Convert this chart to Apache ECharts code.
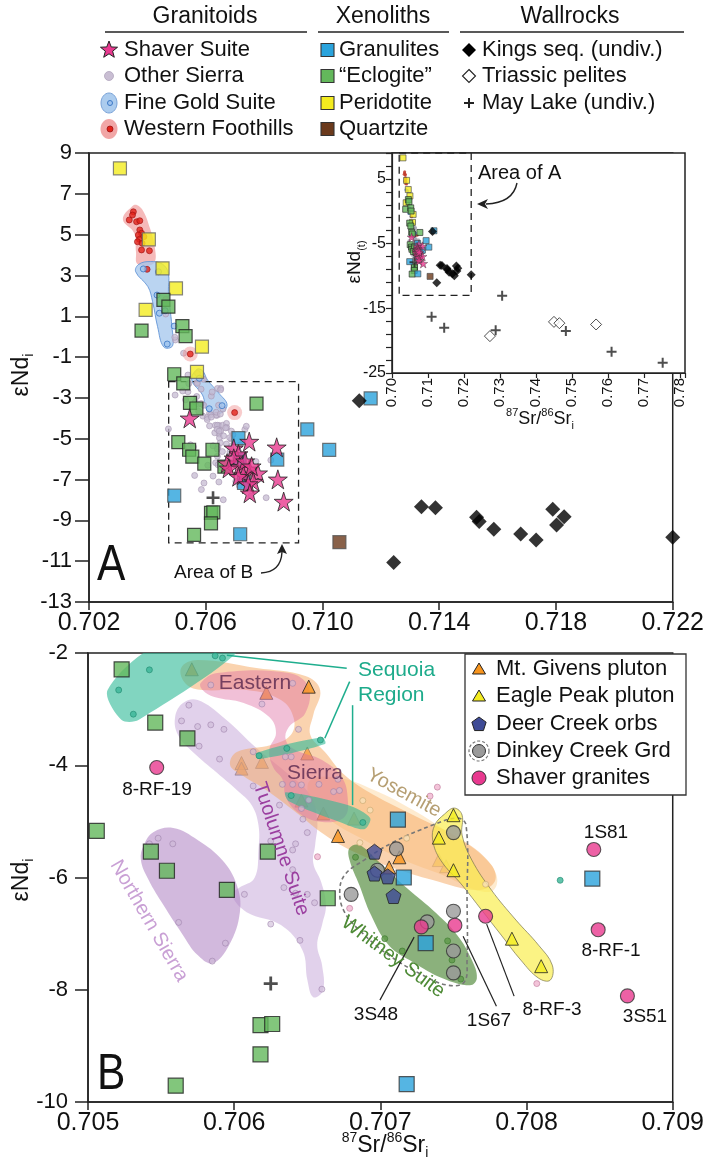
<!DOCTYPE html>
<html><head><meta charset="utf-8">
<script src="https://cdn.jsdelivr.net/npm/echarts@6/dist/echarts.min.js"></script>
<style>html,body{margin:0;padding:0;background:#fff}#c{width:707px;height:1166px}</style>
</head><body><div id="c"></div>
<script>
// ---------------- DATA ----------------
const axisA = {xmin:0.702, xmax:0.722, xstep:0.004, ymin:-13, ymax:9, ystep:2};
const axisInset = {xmin:0.70, xmax:0.7814, xstep:0.01, ymin:-25, ymax:9, ystep:2};
const axisB = {xmin:0.705, xmax:0.709, xstep:0.001, ymin:-10, ymax:-2, ystep:2};

// Granitoids (panel A)
const shaverSuite = [[0.70545,-4.00],[0.70749,-5.14],[0.70843,-5.42],[0.70696,-5.47],[0.70712,-5.75],[0.70673,-6.20],[0.70696,-5.96],[0.70716,-6.37],[0.70679,-6.45],[0.70749,-6.50],[0.70779,-6.69],[0.70729,-6.78],[0.70712,-6.86],[0.70763,-7.10],[0.70746,-7.22],[0.70847,-6.99],[0.70751,-7.67],[0.70867,-8.08],[0.70735,-6.10],[0.70757,-6.35]];
const otherSierraExtra = [[0.70463,1.83],[0.70463,1.11],[0.70496,-0.16],[0.70524,-0.81],[0.70494,-0.03],[0.70539,-1.88],[0.70572,-1.80],[0.70472,-4.52],[0.70495,-2.86],[0.70539,-2.70],[0.70570,-2.25],[0.70651,-2.53]];
const fineGoldDots = [[0.70386,3.32],[0.70438,3.18],[0.70433,2.04],[0.70441,1.15],[0.70461,1.27],[0.70492,0.52],[0.70468,-0.36],[0.70578,-2.04],[0.70612,-3.53],[0.70656,-3.38]];
const westernFoothillsDots = [[0.70352,6.12],[0.70349,5.96],[0.70338,5.72],[0.70363,5.63],[0.70374,5.68],[0.70374,5.23],[0.70380,5.07],[0.70369,4.98],[0.70388,4.90],[0.70373,4.77],[0.70366,4.65],[0.70382,4.58],[0.70380,4.25],[0.70407,4.21],[0.70399,3.30]];
const westernFoothillsOutliers = [[0.70547,-0.85],[0.70699,-3.72]];
const fineGoldRegionUpper = [[0.70371,3.55],[0.70360,3.18],[0.70402,2.45],[0.70418,1.71],[0.70435,0.49],[0.70456,-0.50],[0.70486,-0.45],[0.70484,0.49],[0.70477,1.47],[0.70472,2.20],[0.70472,3.10],[0.70452,3.55],[0.70410,3.68]];
const fineGoldRegionLower = [[0.70570,-1.60],[0.70552,-2.12],[0.70589,-2.86],[0.70606,-3.63],[0.70645,-3.78],[0.70673,-3.35],[0.70645,-2.77],[0.70606,-2.12],[0.70589,-1.67]];
const westernFoothillsRegion = [[0.70349,6.40],[0.70316,5.75],[0.70355,5.07],[0.70361,4.16],[0.70367,3.55],[0.70422,3.60],[0.70425,4.44],[0.70409,5.31],[0.70386,6.15],[0.70364,6.45]];

// Xenoliths
const granulites = [[0.70712,-4.97],[0.70716,-6.00],[0.70845,-6.02],[0.70731,-7.17],[0.70718,-9.68],[0.70492,-7.79],[0.70948,-4.54],[0.71023,-5.55],[0.71165,-3.02]];
const eclogite = [[0.70455,1.80],[0.70472,1.47],[0.70380,0.30],[0.70520,0.52],[0.70531,0.03],[0.70492,-1.84],[0.70774,-3.28],[0.70523,-2.29],[0.70546,-3.24],[0.70568,-3.52],[0.70506,-5.17],[0.70543,-5.54],[0.70554,-5.88],[0.70623,-5.54],[0.70595,-6.22],[0.70664,-6.37],[0.70618,-8.63],[0.70626,-8.61],[0.70618,-9.15],[0.70560,-9.71]];
const peridotite = [[0.70306,8.25],[0.70405,4.77],[0.70452,3.35],[0.70498,2.37],[0.70394,1.31],[0.70587,-0.49],[0.70570,-1.72]];
const quartzite = [[0.71058,-10.07]];

// Wallrocks
const kingsSeq = [[0.71126,-3.14],[0.71244,-11.07],[0.71339,-8.33],[0.71387,-8.38],[0.71528,-8.85],[0.71537,-9.06],[0.71587,-9.44],[0.71679,-9.67],[0.71732,-9.96],[0.71789,-8.46],[0.71802,-9.23],[0.71828,-8.82],[0.72200,-9.83]];
const triassicPelites = [[0.7272,-19.3],[0.7450,-17.1],[0.7465,-17.3],[0.7567,-17.5]];
const mayLake = [[0.70625,-7.89],[0.7110,-16.3],[0.7145,-18.0],[0.7288,-18.4],[0.7306,-13.05],[0.7483,-18.5],[0.7610,-21.7],[0.7752,-23.4]];

// Panel B plutons
const mtGivens = [[0.70651,-2.60],[0.70671,-5.26],[0.70706,-5.82],[0.70713,-5.64]];
const mtGivensUnder = [[0.70622,-2.71],[0.70650,-3.79],[0.70605,-3.96],[0.70605,-4.06],[0.70619,-3.94],[0.70661,-4.86],[0.70571,-2.29],[0.70646,-4.63],[0.70682,-4.95]];
const eaglePeak = [[0.70750,-4.89],[0.70740,-5.29],[0.70750,-5.87],[0.70790,-7.09],[0.70810,-7.58]];
const eaglePeakUnder = [[0.70740,-5.69],[0.70745,-5.80]];
const deerCreek = [[0.70696,-5.54],[0.70696,-5.93],[0.70705,-5.98],[0.70709,-6.33]];
const dinkeyCreek = [[0.70711,-5.49],[0.70750,-5.20],[0.70698,-5.87],[0.70680,-6.30],[0.70750,-6.60],[0.70732,-6.79],[0.70750,-7.31],[0.70750,-7.70]];
const shaverGranites = [[0.70547,-4.04],[0.70846,-5.50],[0.70849,-6.93],[0.70869,-8.11],[0.70772,-6.69],[0.70751,-6.85],[0.70728,-6.88]];
const shaverLabels = ['8-RF-19','1S81','8-RF-1','3S51','8-RF-3','1S67','3S48'];

// Panel B small symbols (other Sierra samples)
const sierraDots = [[0.70569,-2.93],[0.70564,-3.21],[0.70575,-3.31],[0.70584,-3.28],[0.70593,-3.36],[0.70576,-3.66],[0.70590,-3.89],[0.70584,-2.57],[0.70619,-2.91],[0.70640,-2.54],[0.70644,-3.36],[0.70613,-3.76],[0.70639,-3.85],[0.70635,-3.85],[0.70646,-4.35],[0.70633,-4.34],[0.70640,-4.34],[0.70646,-4.77],[0.70658,-4.34],[0.70671,-4.25],[0.70672,-4.45],[0.70668,-4.47],[0.70651,-4.62],[0.70647,-4.96],[0.70631,-4.71],[0.70650,-5.20],[0.70548,-5.30],[0.70542,-5.40],[0.70558,-5.40],[0.70613,-4.37],[0.70625,-5.35],[0.70642,-5.40],[0.70640,-5.51],[0.70640,-5.86],[0.70634,-6.18],[0.70642,-6.28],[0.70650,-6.30],[0.70607,-6.30],[0.70625,-6.83],[0.70562,-6.80],[0.70655,-6.45],[0.70645,-7.12],[0.70594,-7.17],[0.70585,-7.49],[0.70660,-7.99]];
const sequoiaDots = [[0.70542,-2.30],[0.70521,-2.66],[0.70531,-3.09],[0.70587,-2.05],[0.70592,-2.09],[0.70617,-3.83],[0.70636,-3.70],[0.70659,-3.55],[0.70639,-4.54],[0.70688,-5.02],[0.70823,-6.05]];
const whitneyDots = [[0.70683,-5.64],[0.70703,-7.09],[0.70715,-7.31],[0.70746,-7.13],[0.70749,-7.47],[0.70755,-7.81]];
const pinkDots = [[0.70734,-4.55],[0.70739,-4.39],[0.70657,-5.63],[0.70679,-6.55],[0.70807,-7.89]];
const yosemiteDots = [[0.70772,-6.12],[0.70718,-5.30],[0.70686,-5.38],[0.70693,-4.80],[0.70688,-4.63]];

// Panel B field outlines (data coordinates)
const sequoiaUpper = [[0.705134,-2.66],[0.705482,-1.86],[0.706052,-1.86],[0.705348,-3.19],[0.705228,-3.19]];
const sequoiaMid = [[0.706152,-3.78],[0.706601,-3.50],[0.706621,-3.62],[0.706166,-3.89]];
const sequoiaLower = [[0.706353,-4.48],[0.706776,-4.71],[0.706930,-4.94],[0.706889,-5.14],[0.706722,-5.01],[0.706374,-4.64]];
const easternSierra = [[0.705771,-2.535],[0.705884,-2.357],[0.706374,-2.357],[0.706508,-2.606],[0.706487,-3.07],[0.706374,-3.319],[0.706353,-3.551],[0.70642,-3.729],[0.706601,-3.907],[0.706735,-4.21],[0.706776,-4.567],[0.706755,-4.923],[0.706601,-5.012],[0.706441,-4.852],[0.706353,-4.567],[0.706333,-4.264],[0.706266,-4.032],[0.70624,-3.729],[0.706286,-3.426],[0.70624,-3.141],[0.706065,-2.891],[0.705864,-2.784],[0.705784,-2.66]];
const mtGivensField = [[0.705637,-2.267],[0.70575,-2.125],[0.706152,-2.267],[0.706487,-2.41],[0.706588,-2.66],[0.706541,-3.105],[0.706521,-3.462],[0.706621,-3.765],[0.706755,-4.175],[0.706956,-4.531],[0.707224,-4.888],[0.707559,-5.333],[0.70776,-5.779],[0.707781,-6.082],[0.70766,-6.225],[0.707358,-6.046],[0.70709,-5.832],[0.706822,-5.547],[0.706621,-5.244],[0.70642,-4.834],[0.706219,-4.442],[0.706052,-4.175],[0.705972,-3.996],[0.706018,-3.765],[0.706253,-3.64],[0.706387,-3.462],[0.706407,-3.159],[0.70632,-2.838],[0.706085,-2.66],[0.705784,-2.66],[0.70567,-2.553]];
const tuolumneField = [[0.705596,-3.141],[0.70565,-2.891],[0.70575,-2.838],[0.705931,-3.159],[0.706152,-3.693],[0.706353,-4.121],[0.706521,-4.531],[0.706568,-4.977],[0.706554,-5.422],[0.706541,-5.743],[0.706595,-6.082],[0.706628,-6.492],[0.706601,-6.848],[0.706568,-7.205],[0.706601,-7.561],[0.706608,-8.007],[0.706541,-8.132],[0.706501,-7.829],[0.706467,-7.294],[0.70632,-6.848],[0.706085,-6.617],[0.705985,-6.314],[0.706032,-6.189],[0.706139,-6.011],[0.706166,-5.512],[0.706166,-5.066],[0.706119,-4.709],[0.706018,-4.442],[0.705884,-4.139],[0.705717,-3.765],[0.705616,-3.462]];
const northernSierraField = [[0.705382,-5.422],[0.705449,-5.191],[0.705583,-5.119],[0.70575,-5.333],[0.705918,-5.69],[0.706018,-6.135],[0.706039,-6.617],[0.705965,-7.205],[0.705851,-7.526],[0.70575,-7.383],[0.70565,-7.027],[0.705516,-6.492],[0.705415,-6.046],[0.705362,-5.69]];
const whitneyField = [[0.706789,-5.476],[0.706856,-5.422],[0.706977,-5.69],[0.707157,-6.135],[0.707358,-6.581],[0.707526,-7.027],[0.707626,-7.472],[0.70766,-7.793],[0.707613,-7.918],[0.707425,-7.793],[0.707224,-7.508],[0.707057,-7.205],[0.706936,-6.67],[0.706856,-6.135],[0.706789,-5.69]];
const eaglePeakField = [[0.707439,-4.87],[0.707506,-4.763],[0.707559,-4.888],[0.707559,-5.244],[0.707626,-5.69],[0.70776,-6.225],[0.707928,-6.759],[0.708082,-7.205],[0.708176,-7.561],[0.708162,-7.829],[0.708082,-7.793],[0.707961,-7.472],[0.707827,-7.027],[0.707693,-6.581],[0.707559,-6.135],[0.707412,-5.69],[0.707358,-5.333],[0.707372,-5.066]];
const yosemiteField = [[0.706521,-4.264],[0.706722,-4.228],[0.706956,-4.442],[0.707224,-4.799],[0.707492,-5.244],[0.707693,-5.601],[0.707794,-5.957],[0.707774,-6.225],[0.70766,-6.225],[0.707425,-5.957],[0.707157,-5.69],[0.706889,-5.333],[0.706655,-4.977],[0.706521,-4.62]];
const dinkeyOutline = [[0.706722,-6.278],[0.706755,-5.957],[0.706889,-5.69],[0.70709,-5.369],[0.707358,-5.066],[0.707526,-4.941],[0.707586,-5.066],[0.707593,-6.403],[0.707593,-7.472],[0.707573,-7.865],[0.707459,-7.918],[0.707291,-7.74],[0.707057,-7.383],[0.706856,-6.938],[0.706755,-6.617]];
const sequoiaLeaders = [[[0.70595,-2.04],[0.70677,-2.27]],[[0.70679,-2.51],[0.70662,-3.52]],[[0.70681,-2.93],[0.70681,-4.71]]];
const sampleLeaders = [[[0.706997,-8.185],[0.707231,-7.062]],[[0.707794,-8.292],[0.707566,-7.045]],[[0.707915,-8.114],[0.707727,-6.831]]];
const areaOfB = [[0.70473,-2.2],[0.70918,-10.1]];
const areaOfA = [[0.702,9],[0.722,-13]];

// ---------------- RENDERING ----------------
const FONT = '"Liberation Sans", Arial, Helvetica, sans-serif';
const STAR = 'path://M50,2L61.2,36.5L97.6,36.5L68.2,57.8L79.4,92.4L50,71L20.6,92.4L31.8,57.8L2.4,36.5L38.8,36.5Z';
const PENT = 'path://M50,2L97.6,36.5L79.4,92.4L20.6,92.4L2.4,36.5Z';
const PLUS = 'path://M4,0H6V4H10V6H6V10H4V6H0V4H4Z';
const C = {star:'#e8398f', blue:'#2aa3dc', green:'#63b85b', yellow:'#f4ec1f', brown:'#6b3a1c', red:'#e2231a',
  orange:'#f7941d', navy:'#3f4b96', gray:'#9a9a9a', pink:'#e8398f'};

function sc(data, gi, symbol, size, style, z, extra){
  return Object.assign({type:'scatter', xAxisIndex:gi, yAxisIndex:gi, data:data, symbol:symbol, symbolSize:size,
    itemStyle:style, z:z, silent:true, animation:false, clip:true}, extra||{});
}
function region(data, gi, style, z, smooth){
  return {type:'custom', xAxisIndex:gi, yAxisIndex:gi, z:z, clip:true, silent:true, animation:false, data:[data[0]],
    renderItem:function(p, api){
      return {type:'polygon', shape:{points:data.map(function(d){return api.coord(d);}), smooth:(smooth==null?0.4:smooth)}, style:style};
    }};
}
function lines(list, gi, style, z){
  return {type:'custom', xAxisIndex:gi, yAxisIndex:gi, z:z, clip:true, silent:true, animation:false, data:[list[0][0]],
    renderItem:function(p, api){
      return {type:'group', children:list.map(function(l){
        return {type:'polyline', shape:{points:l.map(function(d){return api.coord(d);})}, style:style};})};
    }};
}
function box(c, gi, z){
  return {type:'custom', xAxisIndex:gi, yAxisIndex:gi, z:z, clip:false, silent:true, animation:false, data:[c[0]],
    renderItem:function(p, api){
      const a = api.coord(c[0]), b = api.coord(c[1]);
      return {type:'rect', shape:{x:a[0], y:a[1], width:b[0]-a[0], height:b[1]-a[1]},
        style:{fill:'none', stroke:'#222', lineWidth:1.3, lineDash:[7,5]}};
    }};
}

const sqStyle = function(c){return {color:c, borderColor:'#222', borderWidth:1.2};};
const otherSierraA = [].concat(otherSierraExtra, sierraDots, sequoiaDots, whitneyDots, pinkDots, yosemiteDots, mtGivens, mtGivensUnder);

const series = [];
// ---- Panel A ----
series.push(region(westernFoothillsRegion, 0, {fill:'rgba(239,140,140,0.6)'}, 1));
series.push(region(fineGoldRegionUpper, 0, {fill:'rgba(163,198,236,0.75)', stroke:'rgba(100,150,215,0.9)', lineWidth:1}, 1));
series.push(region(fineGoldRegionLower, 0, {fill:'rgba(163,198,236,0.75)', stroke:'rgba(100,150,215,0.9)', lineWidth:1}, 1));
series.push(box(areaOfB, 0, 2));
series.push(sc(otherSierraA, 0, 'circle', 6, {color:'rgba(196,184,208,0.9)', borderColor:'#a898b4', borderWidth:0.8}, 3));
series.push(sc(westernFoothillsOutliers, 0, 'circle', 15, {color:'rgba(240,140,140,0.55)'}, 3));
series.push(sc(westernFoothillsDots.concat(westernFoothillsOutliers), 0, 'circle', 6, {color:C.red, borderColor:'#9e1010', borderWidth:0.8}, 4));
series.push(sc(fineGoldDots, 0, 'circle', 6, {color:'#9fc3ee', borderColor:'#3b78c6', borderWidth:1}, 4));
series.push(sc(peridotite, 0, 'rect', 13, {color:C.yellow, borderColor:'#666', borderWidth:1.2}, 5));
series.push(sc(eclogite, 0, 'rect', 13, sqStyle(C.green), 5));
series.push(sc(granulites, 0, 'rect', 13, {color:C.blue, borderColor:'#555', borderWidth:1.2}, 5));
series.push(sc(quartzite, 0, 'rect', 13, {color:C.brown, borderColor:'#555', borderWidth:1.2}, 5));
series.push(sc(kingsSeq, 0, 'diamond', 15, {color:'#000'}, 5));
series.push(sc(mayLake, 0, PLUS, 13, {color:'#222'}, 5));
series.push(sc(shaverSuite, 0, STAR, 19, {color:C.star, borderColor:'#222', borderWidth:1}, 6));
// ---- Inset ----
series.push(box(areaOfA, 1, 2));
series.push(sc(otherSierraA, 1, 'circle', 3, {color:'#a9a9b4'}, 3));
series.push(sc(westernFoothillsDots.concat(westernFoothillsOutliers), 1, 'circle', 3, {color:'#c0392b'}, 4));
series.push(sc(fineGoldDots, 1, 'circle', 3, {color:'#5b8fd6'}, 4));
series.push(sc(peridotite, 1, 'rect', 6, {color:C.yellow, borderColor:'#444', borderWidth:0.8}, 5));
series.push(sc(eclogite, 1, 'rect', 6, {color:C.green, borderColor:'#222', borderWidth:0.8}, 5));
series.push(sc(granulites, 1, 'rect', 6, {color:C.blue, borderColor:'#444', borderWidth:0.8}, 5));
series.push(sc(quartzite, 1, 'rect', 6, {color:C.brown, borderColor:'#444', borderWidth:0.8}, 5));
series.push(sc(kingsSeq, 1, 'diamond', 9, {color:'#000'}, 5));
series.push(sc(triassicPelites, 1, 'diamond', 11, {color:'#fff', borderColor:'#222', borderWidth:1}, 5));
series.push(sc(mayLake, 1, PLUS, 10, {color:'#222'}, 5));
series.push(sc(shaverSuite, 1, STAR, 9, {color:C.star, borderColor:'#333', borderWidth:0.5}, 6));
// ---- Panel B ----
series.push(sc(mtGivensUnder, 2, 'triangle', 13, {color:C.orange, borderColor:'#555', borderWidth:1}, 1));
series.push(sc(eaglePeakUnder, 2, 'triangle', 13, {color:C.yellow, borderColor:'#777', borderWidth:1}, 1));
series.push(region(tuolumneField, 2, {fill:'rgba(200,172,218,0.55)'}, 2));
series.push(region(northernSierraField, 2, {fill:'rgba(178,135,196,0.58)'}, 2));
series.push(region(yosemiteField, 2, {fill:'rgba(253,218,168,0.55)'}, 2));
series.push(region(mtGivensField, 2, {fill:'rgba(245,168,95,0.5)'}, 2));
series.push(region(easternSierra, 2, {fill:'rgba(222,105,160,0.42)'}, 2));
series.push(region(sequoiaUpper, 2, {fill:'rgba(45,185,150,0.6)'}, 2, 0.3));
series.push(region(sequoiaMid, 2, {fill:'rgba(45,185,150,0.6)'}, 2, 0.3));
series.push(region(sequoiaLower, 2, {fill:'rgba(45,185,150,0.6)'}, 2, 0.3));
series.push(region(whitneyField, 2, {fill:'rgba(84,140,62,0.68)'}, 2));
series.push(region(eaglePeakField, 2, {fill:'rgba(250,238,80,0.7)', stroke:'rgba(120,115,80,0.7)', lineWidth:1}, 2));
series.push(region(dinkeyOutline, 2, {fill:'none', stroke:'#777', lineWidth:1.6, lineDash:[4,3]}, 3));
series.push(lines(sequoiaLeaders, 2, {stroke:'#1fae8e', lineWidth:1.5, fill:'none'}, 3));
series.push(lines(sampleLeaders, 2, {stroke:'#222', lineWidth:1.2, fill:'none'}, 3));
series.push(sc(sierraDots, 2, 'circle', 6, {color:'rgba(205,185,215,0.75)', borderColor:'rgba(150,120,165,0.8)', borderWidth:0.8}, 4));
series.push(sc(sequoiaDots, 2, 'circle', 6, {color:'#3bb597', borderColor:'#1f8a70', borderWidth:0.8}, 4));
series.push(sc(whitneyDots, 2, 'circle', 6, {color:'#5e9a49', borderColor:'#3e7a2f', borderWidth:0.8}, 4));
series.push(sc(pinkDots, 2, 'circle', 6, {color:'#f0b5d0', borderColor:'#c07a9c', borderWidth:0.8}, 4));
series.push(sc(yosemiteDots, 2, 'circle', 6, {color:'#f7e0b8', borderColor:'#c8a870', borderWidth:0.8}, 4));
series.push(sc(eclogite, 2, 'rect', 15, sqStyle(C.green), 5));
series.push(sc(granulites, 2, 'rect', 15, {color:C.blue, borderColor:'#333', borderWidth:1.2}, 5));
series.push(sc(mayLake, 2, PLUS, 14, {color:'#222'}, 5));
series.push(sc(mtGivens, 2, 'triangle', 13, {color:C.orange, borderColor:'#222', borderWidth:1}, 6));
series.push(sc(eaglePeak, 2, 'triangle', 13, {color:C.yellow, borderColor:'#222', borderWidth:1}, 6));
series.push(sc(dinkeyCreek, 2, 'circle', 14, {color:C.gray, borderColor:'#333', borderWidth:1.1}, 6));
series.push(sc(deerCreek, 2, PENT, 15, {color:C.navy, borderColor:'#222', borderWidth:1}, 7));
series.push(sc(shaverGranites, 2, 'circle', 14, {color:C.pink, borderColor:'#333', borderWidth:1.1}, 7));

// ---------------- AXES ----------------
function xAx(gi, a, fs, fmt, extra){
  return Object.assign({gridIndex:gi, type:'value', min:a.xmin, max:a.xmax, interval:a.xstep,
    axisLine:{onZero:false, lineStyle:{color:'#222', width:1.5}}, axisTick:{length:8, lineStyle:{color:'#222', width:1.5}},
    splitLine:{show:false}, axisLabel:{fontSize:fs, color:'#111', fontFamily:FONT, margin:9, formatter:fmt}}, extra||{});
}
function yAx(gi, a, fs, fmt, tick, margin){
  return {gridIndex:gi, type:'value', min:a.ymin, max:a.ymax, interval:a.ystep,
    axisLine:{onZero:false, lineStyle:{color:'#222', width:1.5}}, axisTick:{length:tick, lineStyle:{color:'#222', width:1.5}},
    splitLine:{show:false}, axisLabel:{fontSize:fs, color:'#111', fontFamily:FONT, margin:margin, formatter:fmt}};
}
const xAxes = [
  xAx(0, axisA, 25, function(v){return v.toFixed(3);}),
  xAx(1, axisInset, 15, function(v){return Math.abs(Math.round(v*100)-v*100)<1e-6 ? v.toFixed(2) : '';},
      {axisTick:{length:5, lineStyle:{color:'#222', width:1.2}}}),
  xAx(2, axisB, 25, function(v){return v.toFixed(3);})
];
xAxes[1].axisLabel.rotate = 90; xAxes[1].axisLabel.margin = 5; xAxes[1].axisLine.lineStyle.width = 1.2;
const yAxes = [
  yAx(0, axisA, 22, function(v){return String(Math.round(v));}, 14, 17),
  yAx(1, axisInset, 16, function(v){const r=Math.round(v); return ((r+25)%10===0)?String(r):'';}, 6, 6),
  yAx(2, axisB, 22, function(v){return String(Math.round(v));}, 13, 20)
];
yAxes[1].axisLine.lineStyle.width = 1.2; yAxes[1].axisTick.lineStyle.width = 1.2;

// ---------------- GRAPHIC (legends, labels, annotations) ----------------
const G = [];
function T(x, y, text, size, o){
  o = o || {};
  G.push({type:'text', x:x, y:y, rotation:o.rot||0, scaleX:o.sx||1, z:o.z||50, silent:true,
    style:{text:text, fontSize:size, fontFamily:FONT, fill:o.fill||'#111', opacity:(o.op==null?1:o.op),
      align:o.align||'left', textAlign:o.align||'left', verticalAlign:'middle', textVerticalAlign:'middle', rich:o.rich}});
}
function starPts(cx, cy, R, r){const a=[];for(let i=0;i<10;i++){const rr=i%2?r:R;const t=-Math.PI/2+i*Math.PI/5;a.push([cx+rr*Math.cos(t),cy+rr*Math.sin(t)]);}return a;}
function ngon(cx, cy, R, n){const a=[];for(let i=0;i<n;i++){const t=-Math.PI/2+i*2*Math.PI/n;a.push([cx+R*Math.cos(t),cy+R*Math.sin(t)]);}return a;}

// top legend
T(205, 17, 'Granitoids', 23, {align:'center'});
T(383, 17, 'Xenoliths', 23, {align:'center'});
T(570, 17, 'Wallrocks', 23, {align:'center'});
[[105,307],[318,449],[460,684]].forEach(function(s){
  G.push({type:'line', shape:{x1:s[0], y1:32, x2:s[1], y2:32}, style:{stroke:'#222', lineWidth:1.3}, z:50, silent:true});
});
const rows = [50, 76, 103, 129];
G.push({type:'polygon', shape:{points:starPts(109, rows[0], 9, 3.8)}, style:{fill:C.star, stroke:'#222', lineWidth:1}, z:50});
G.push({type:'circle', shape:{cx:109, cy:rows[1], r:4.5}, style:{fill:'#c9bed3', stroke:'#b0a4bc', lineWidth:0.8}, z:50});
G.push({type:'ellipse', shape:{cx:109, cy:rows[2], rx:8, ry:10}, style:{fill:'rgba(163,198,236,0.9)', stroke:'#7aa3d8', lineWidth:1}, z:50});
G.push({type:'circle', shape:{cx:110, cy:rows[2], r:2.5}, style:{fill:'#9fc3ee', stroke:'#3b78c6', lineWidth:1}, z:51});
G.push({type:'ellipse', shape:{cx:109, cy:rows[3], rx:8.5, ry:10}, style:{fill:'rgba(239,150,150,0.85)'}, z:50});
G.push({type:'circle', shape:{cx:110, cy:rows[3], r:3}, style:{fill:C.red, stroke:'#9e1010', lineWidth:0.8}, z:51});
['Shaver Suite','Other Sierra','Fine Gold Suite','Western Foothills'].forEach(function(t,i){T(124, rows[i], t, 22);});
[C.blue, C.green, C.yellow, C.brown].forEach(function(c,i){
  G.push({type:'rect', shape:{x:321, y:rows[i]-6.5, width:13, height:13}, style:{fill:c, stroke:'#333', lineWidth:1.1}, z:50});
});
['Granulites','\u201CEclogite\u201D','Peridotite','Quartzite'].forEach(function(t,i){T(339, rows[i], t, 22);});
G.push({type:'polygon', shape:{points:[[469,rows[0]-7],[476,rows[0]],[469,rows[0]+7],[462,rows[0]]]}, style:{fill:'#000'}, z:50});
G.push({type:'polygon', shape:{points:[[469,rows[1]-6.5],[475.5,rows[1]],[469,rows[1]+6.5],[462.5,rows[1]]]}, style:{fill:'#fff', stroke:'#222', lineWidth:1.1}, z:50});
G.push({type:'rect', shape:{x:464, y:rows[2]-1, width:10, height:2}, style:{fill:'#222'}, z:50});
G.push({type:'rect', shape:{x:468, y:rows[2]-5, width:2, height:10}, style:{fill:'#222'}, z:50});
['Kings seq. (undiv.)','Triassic pelites','May Lake (undiv.)'].forEach(function(t,i){T(482, rows[i], t, 22);});

// panel letters and area annotations
T(97, 566, 'A', 50, {sx:0.85});
T(97, 1075, 'B', 50, {sx:0.85});
T(174, 573, 'Area of B', 19);
G.push({type:'bezierCurve', shape:{x1:261, y1:573, cpx1:281, cpy1:572, x2:282, y2:552}, style:{stroke:'#222', lineWidth:1.4, fill:'none'}, z:50});
G.push({type:'polygon', shape:{points:[[282,544],[287,554],[282,552],[277,554]]}, style:{fill:'#222'}, z:50});
T(478, 173, 'Area of A', 20);
G.push({type:'bezierCurve', shape:{x1:517, y1:183, cpx1:513, cpy1:203, x2:486, y2:204}, style:{stroke:'#222', lineWidth:1.4, fill:'none'}, z:50});
G.push({type:'polygon', shape:{points:[[477,204],[488,199],[485,204],[488,209]]}, style:{fill:'#222'}, z:50});

// axis titles
const richSub = function(fs){return {n:{fontSize:fs, fontFamily:FONT, fill:'#111', lineHeight:fs+6},
  s:{fontSize:Math.round(fs*0.6), fontFamily:FONT, fill:'#111', lineHeight:Math.round(fs*0.6), verticalAlign:'bottom'},
  p:{fontSize:Math.round(fs*0.6), fontFamily:FONT, fill:'#111', lineHeight:Math.round(fs*0.6), verticalAlign:'top'}};};
T(22, 375, '{n|\u03B5Nd}{s|i}', 23, {align:'center', rot:Math.PI/2, rich:richSub(23)});
T(22, 880, '{n|\u03B5Nd}{s|i}', 23, {align:'center', rot:Math.PI/2, rich:richSub(23)});
T(355, 262, '{n|\u03B5Nd}{s|(t)}', 19, {align:'center', rot:Math.PI/2, rich:richSub(19)});
T(540, 419, '{p|87}{n|Sr/}{p|86}{n|Sr}{s|i}', 18, {align:'center', rich:richSub(18)});
T(385, 1146, '{p|87}{n|Sr/}{p|86}{n|Sr}{s|i}', 23, {align:'center', rich:richSub(23)});

// panel B field names
const deg = Math.PI/180;
T(255, 683, 'Eastern', 21, {align:'center', fill:'#5f2d52', op:0.85});
T(315, 773, 'Sierra', 21, {align:'center', fill:'#5f2d52', op:0.85});
T(281, 849, 'Tuolumne Suite', 20, {align:'center', fill:'#9b3fa0', rot:-71.4*deg});
T(149, 921, 'Northern Sierra', 20, {align:'center', fill:'#c9a0d5', rot:-60*deg});
T(393, 957, 'Whitney Suite', 20, {align:'center', fill:'#4d8a35', rot:-36.5*deg});
T(404, 793, 'Yosemite', 20, {align:'center', fill:'#b69f73', rot:-28.7*deg});
T(358, 670, 'Sequoia', 21, {fill:'#1dab8b'});
T(358, 695, 'Region', 21, {fill:'#1dab8b'});
// sample names (same order as shaverLabels)
[[157,790],[606,833],[611,951],[645,1017],[552,1010],[489,1021],[376,1015]].forEach(function(p,i){
  T(p[0], p[1], shaverLabels[i], 19, {align:'center'});
});
// panel B legend
const lg = {x:465, y:654, w:221, h:141};
G.push({type:'rect', shape:{x:lg.x, y:lg.y, width:lg.w, height:lg.h}, style:{fill:'#fff', stroke:'#333', lineWidth:1.3}, z:90});
const lr = [669, 696, 724, 751, 778];
G.push({type:'polygon', shape:{points:[[479,lr[0]-6],[485.5,lr[0]+5],[472.5,lr[0]+5]]}, style:{fill:C.orange, stroke:'#222', lineWidth:1}, z:91});
G.push({type:'polygon', shape:{points:[[479,lr[1]-6],[485.5,lr[1]+5],[472.5,lr[1]+5]]}, style:{fill:C.yellow, stroke:'#222', lineWidth:1}, z:91});
G.push({type:'polygon', shape:{points:ngon(479, lr[2]+0.5, 7.5, 5)}, style:{fill:C.navy, stroke:'#222', lineWidth:1}, z:91});
G.push({type:'circle', shape:{cx:479, cy:lr[3], r:10}, style:{fill:'none', stroke:'#777', lineWidth:1.2, lineDash:[3,2]}, z:91});
G.push({type:'circle', shape:{cx:479, cy:lr[3], r:6.5}, style:{fill:C.gray, stroke:'#333', lineWidth:1}, z:91});
G.push({type:'circle', shape:{cx:479, cy:lr[4], r:7}, style:{fill:C.pink, stroke:'#333', lineWidth:1}, z:91});
['Mt. Givens pluton','Eagle Peak pluton','Deer Creek orbs','Dinkey Creek Grd','Shaver granites'].forEach(function(t,i){
  T(496, lr[i], t, 22, {z:92});
});

const chart = echarts.init(document.getElementById('c'), null, {renderer:'canvas'});
chart.setOption({
  animation:false, backgroundColor:'#fff',
  grid:[
    {left:89, top:153, width:596, height:449, show:true, borderColor:'#222', borderWidth:1.5, backgroundColor:'rgba(0,0,0,0)'},
    {left:392, top:153, width:293, height:220, show:true, borderColor:'#222', borderWidth:1.5, backgroundColor:'#fff'},
    {left:88, top:653, width:597, height:449, show:true, borderColor:'#222', borderWidth:1.5, backgroundColor:'rgba(0,0,0,0)'}
  ],
  xAxis:xAxes, yAxis:yAxes, series:series, graphic:{elements:G}
});
</script></body></html>
